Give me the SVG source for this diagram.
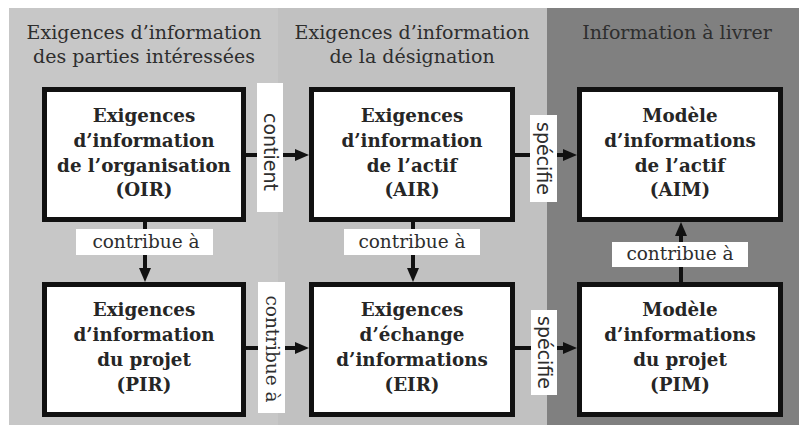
<svg xmlns="http://www.w3.org/2000/svg" width="799" height="425" viewBox="0 0 799 425">
  <style>
    .head { font-family: "DejaVu Serif", "Liberation Serif", serif; font-size: 19px; fill: #2e2e2e; text-anchor: middle; }
    .node rect { fill: #ffffff; stroke: #111111; stroke-width: 5; }
    .node text { font-family: "DejaVu Serif", "Liberation Serif", serif; font-size: 18.3px; font-weight: bold; fill: #262626; text-anchor: middle; }
    .tag { fill: #ffffff; }
    .lbl-serif { font-family: "DejaVu Serif", "Liberation Serif", serif; font-size: 18.5px; fill: #2e2e2e; text-anchor: middle; }
    .lbl-sans { font-family: "DejaVu Sans", "Liberation Sans", sans-serif; font-size: 19px; fill: #2e2e2e; text-anchor: middle; }
    .wire { stroke: #111111; stroke-width: 4; fill: none; }
  </style>
  <defs>
    <marker id="arrow" markerUnits="userSpaceOnUse" markerWidth="14" markerHeight="12" refX="0" refY="6" orient="auto" overflow="visible">
      <path d="M0,0 L14,6 L0,12 Z" fill="#111111"/>
    </marker>
  </defs>

  <!-- column bands -->
  <rect x="0" y="0" width="799" height="425" fill="#ffffff"/>
  <rect x="9" y="8" width="269" height="417" fill="#c7c7c7"/>
  <rect x="278" y="8" width="269" height="417" fill="#c1c1c1"/>
  <rect x="547" y="8" width="252" height="417" fill="#808080"/>

  <!-- column headings -->
  <text class="head" x="144" y="39">Exigences d’information</text>
  <text class="head" x="144" y="63">des parties intéressées</text>
  <text class="head" x="412" y="39">Exigences d’information</text>
  <text class="head" x="412" y="63">de la désignation</text>
  <text class="head" x="677" y="39">Information à livrer</text>

  <!-- connectors -->
  <g id="connectors">
    <line class="wire" x1="246" y1="155" x2="295" y2="155" marker-end="url(#arrow)"/>
    <line class="wire" x1="515" y1="155" x2="563" y2="155" marker-end="url(#arrow)"/>
    <line class="wire" x1="246" y1="348" x2="295" y2="348" marker-end="url(#arrow)"/>
    <line class="wire" x1="515" y1="348" x2="563" y2="348" marker-end="url(#arrow)"/>
    <line class="wire" x1="145" y1="222" x2="145" y2="268" marker-end="url(#arrow)"/>
    <line class="wire" x1="413" y1="222" x2="413" y2="268" marker-end="url(#arrow)"/>
    <line class="wire" x1="681" y1="282" x2="681" y2="236" marker-end="url(#arrow)"/>

    <rect class="tag" x="257" y="83" width="26" height="129"/>
    <text class="lbl-sans" transform="translate(270,152) rotate(90)" y="6.5">contient</text>
    <rect class="tag" x="530" y="115" width="27" height="87"/>
    <text class="lbl-sans" transform="translate(543.5,158.5) rotate(90)" y="6.5">spécifie</text>
    <rect class="tag" x="258" y="282" width="27" height="131"/>
    <text class="lbl-serif" transform="translate(271.5,349) rotate(90)" y="6">contribue à</text>
    <rect class="tag" x="531" y="310" width="26" height="85"/>
    <text class="lbl-sans" transform="translate(544,352.5) rotate(90)" y="6.5">spécifie</text>

    <rect class="tag" x="76" y="229" width="137" height="26"/>
    <text class="lbl-serif" x="146" y="248">contribue à</text>
    <rect class="tag" x="344" y="229" width="136" height="26"/>
    <text class="lbl-serif" x="412" y="248">contribue à</text>
    <rect class="tag" x="612" y="242" width="136" height="25"/>
    <text class="lbl-serif" x="680" y="260">contribue à</text>
  </g>

  <!-- nodes -->
  <g id="oir" class="node">
    <rect x="44.5" y="89.5" width="199" height="130"/>
    <text x="144" y="122">Exigences</text>
    <text x="144" y="147">d’information</text>
    <text x="144" y="172">de l’organisation</text>
    <text x="144" y="196">(OIR)</text>
  </g>
  <g id="air" class="node">
    <rect x="311.5" y="89.5" width="201" height="130"/>
    <text x="412" y="122">Exigences</text>
    <text x="412" y="147">d’information</text>
    <text x="412" y="172">de l’actif</text>
    <text x="412" y="196">(AIR)</text>
  </g>
  <g id="aim" class="node">
    <rect x="579.5" y="89.5" width="201" height="130"/>
    <text x="680" y="122">Modèle</text>
    <text x="680" y="147">d’informations</text>
    <text x="680" y="172">de l’actif</text>
    <text x="680" y="196">(AIM)</text>
  </g>
  <g id="pir" class="node">
    <rect x="44.5" y="284.5" width="199" height="130"/>
    <text x="144" y="316">Exigences</text>
    <text x="144" y="341">d’information</text>
    <text x="144" y="366">du projet</text>
    <text x="144" y="391">(PIR)</text>
  </g>
  <g id="eir" class="node">
    <rect x="311.5" y="284.5" width="201" height="130"/>
    <text x="412" y="316">Exigences</text>
    <text x="412" y="341">d’échange</text>
    <text x="412" y="366">d’informations</text>
    <text x="412" y="391">(EIR)</text>
  </g>
  <g id="pim" class="node">
    <rect x="579.5" y="284.5" width="201" height="130"/>
    <text x="680" y="316">Modèle</text>
    <text x="680" y="341">d’informations</text>
    <text x="680" y="366">du projet</text>
    <text x="680" y="391">(PIM)</text>
  </g>
</svg>
